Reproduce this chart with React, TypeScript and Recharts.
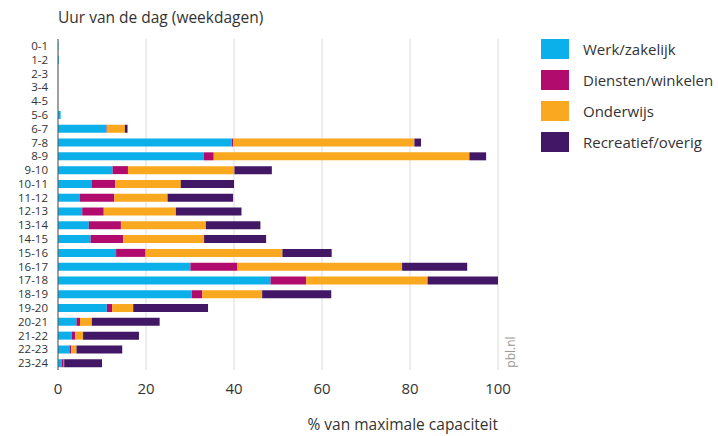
// Bezettingsgraad per uur van de dag (weekdagen), gestapeld per motief.
import { BarChart, Bar, XAxis, YAxis, CartesianGrid } from "recharts";

const uren = [
  "0-1", "1-2", "2-3", "3-4", "4-5", "5-6", "6-7", "7-8", "8-9", "9-10", "10-11", "11-12",
  "12-13", "13-14", "14-15", "15-16", "16-17", "17-18", "18-19", "19-20", "20-21", "21-22", "22-23", "23-24",
];
const werk = [0.1, 0.2, 0, 0, 0, 0.6, 11.0, 39.5, 33.1, 12.4, 7.6, 4.9, 5.5, 7.0, 7.4, 13.2, 30.1, 48.3, 30.4, 11.1, 4.2, 3.1, 2.6, 0.8];
const diensten = [0, 0, 0, 0, 0, 0, 0.1, 0.3, 2.3, 3.5, 5.4, 7.9, 4.9, 7.3, 7.4, 6.7, 10.7, 8.1, 2.4, 1.2, 0.8, 0.8, 0.4, 0.5];
const onderwijs = [0, 0, 0, 0, 0, 0, 4.1, 41.2, 58.1, 24.2, 14.9, 12.1, 16.4, 19.3, 18.4, 31.1, 37.4, 27.6, 13.6, 4.8, 2.7, 1.8, 1.2, 0.1];
const recreatief = [0, 0, 0, 0, 0, 0, 0.6, 1.5, 3.8, 8.5, 12.1, 14.9, 14.9, 12.4, 14.1, 11.2, 14.8, 16.0, 15.7, 17.0, 15.4, 12.7, 10.4, 8.6];
const xTicks = [0, 20, 40, 60, 80, 100];

const series = [
  { key: "Werk/zakelijk", values: werk, color: "#0BB0EA" },
  { key: "Diensten/winkelen", values: diensten, color: "#B10B6E" },
  { key: "Onderwijs", values: onderwijs, color: "#F9A81F" },
  { key: "Recreatief/overig", values: recreatief, color: "#421765" },
];

const data = uren.map((u, i) => {
  const row: Record<string, string | number> = { uur: u };
  series.forEach((s) => (row[s.key] = s.values[i]));
  return row;
});

const FONT = "'Open Sans', 'Noto Sans', sans-serif";
const TEXT = "#333333";

export default function App() {
  return (
    <div style={{ position: "absolute", left: 0, top: 0, width: 718, height: 436, background: "#fff", fontFamily: FONT }}>
      <div style={{ position: "absolute", left: 58, top: 6, fontSize: 15.5, color: TEXT }}>
        Uur van de dag (weekdagen)
      </div>
      <BarChart
        width={718}
        height={436}
        data={data}
        layout="vertical"
        barSize={8}
        margin={{ top: 39, right: 220, bottom: 36, left: 8 }}
      >
        <CartesianGrid horizontal={false} stroke="#dcdcdc" />
        <XAxis
          type="number"
          domain={[0, 100]}
          ticks={xTicks}
          axisLine={false}
          tickLine={false}
          tick={{ fontSize: 15, fill: TEXT, fontFamily: FONT, dy: 5 }}
          height={30}
        />
        <YAxis
          type="category"
          dataKey="uur"
          width={50}
          interval={0}
          tickLine={false}
          axisLine={{ stroke: "#555" }}
          tick={{ fontSize: 11.5, fill: TEXT, fontFamily: FONT, dx: -2 }}
        />
        {series.map((s) => (
          <Bar key={s.key} dataKey={s.key} stackId="a" fill={s.color} isAnimationActive={false} />
        ))}
      </BarChart>
      {/* legenda */}
      <div style={{ position: "absolute", left: 541, top: 33 }}>
        {series.map((s) => (
          <div key={s.key} style={{ display: "flex", alignItems: "center", height: 31 }}>
            <span style={{ width: 28, height: 20, background: s.color, marginRight: 14 }} />
            <span style={{ fontSize: 15, color: TEXT }}>{s.key}</span>
          </div>
        ))}
      </div>
      <div
        style={{
          position: "absolute", left: 486, top: 344, width: 50, height: 16, lineHeight: "16px",
          textAlign: "center", fontSize: 12, color: "#999", transform: "rotate(-90deg)",
        }}
      >
        pbl.nl
      </div>
      <div style={{ position: "absolute", right: 220, top: 413, fontSize: 15.5, color: TEXT }}>
        % van maximale capaciteit
      </div>
    </div>
  );
}
